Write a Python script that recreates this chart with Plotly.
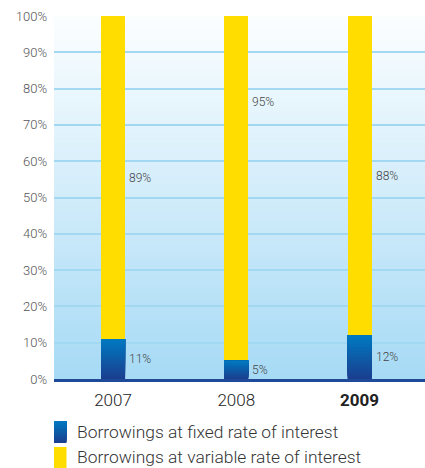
import plotly.graph_objects as go

# Share of borrowings by interest rate type
years = ["2007", "2008", "2009"]
fixed_rate = [11, 5, 12]
variable_rate = [89, 95, 88]
year_labels = ["2007", "2008", "<b>2009</b>"]
series_names = ["Borrowings at fixed rate of interest",
                "Borrowings at variable rate of interest"]
y_ticks = [0, 10, 20, 30, 40, 50, 60, 70, 80, 90, 100]

FONT = "Roboto"
BAR_W = 0.195
YELLOW = "#FFDD00"
BLUE_TOP = (0, 122, 194)
BLUE_BOT = (27, 62, 142)
BG_TOP = (252, 254, 255)
BG_BOT = (166, 218, 245)

W, H = 425, 468
M_L, M_R, M_T, M_B = 54, 0, 16, 89
PLOT_W = W - M_L - M_R
PLOT_H = H - M_T - M_B


def mix(a, b, t):
    return "rgb({},{},{})".format(*[round(a[k] + (b[k] - a[k]) * t) for k in range(3)])


def px_to_paper_y(py):
    return (H - M_B - py) / PLOT_H


def px_to_paper_x(px):
    return (px - M_L) / PLOT_W


fig = go.Figure()
fig.add_trace(go.Bar(
    x=years, y=fixed_rate, name=series_names[0],
    marker=dict(color=mix(BLUE_TOP, BLUE_BOT, 0.5), line=dict(width=0)),
    width=BAR_W,
))
fig.add_trace(go.Bar(
    x=years, y=variable_rate, name=series_names[1],
    marker=dict(color=YELLOW, line=dict(width=0)),
    width=BAR_W,
))

shapes = []
# soft vertical wash behind the plot (each band overpaints the ones below, no seams)
n_bg = 80
for k in range(n_bg):
    y0 = 100 * k / n_bg
    shapes.append(dict(
        type="rect", xref="paper", yref="y", x0=0, x1=1, y0=y0, y1=100,
        fillcolor=mix(BG_BOT, BG_TOP, (k + 0.5) / n_bg), line=dict(width=0),
        layer="below",
    ))

# gradient shading over the fixed-rate segments
n_g = 30
for i, v in enumerate(fixed_rate):
    for k in range(n_g):
        shapes.append(dict(
            type="rect", xref="x", yref="y",
            x0=i - BAR_W / 2, x1=i + BAR_W / 2, y0=v * k / n_g, y1=v,
            fillcolor=mix(BLUE_BOT, BLUE_TOP, (k + 0.5) / n_g),
            line=dict(width=0), layer="above",
        ))

# key below the chart: tall swatches and series names
sw_x0, sw_x1 = px_to_paper_x(54), px_to_paper_x(66.5)
key_rows = [(421, 443), (447, 468)]
for idx, (top, bot) in enumerate(key_rows):
    if idx == 0:
        n_k = 20
        for k in range(n_k):
            yb = bot - (bot - top) * k / n_k
            shapes.append(dict(
                type="rect", xref="paper", yref="paper",
                x0=sw_x0, x1=sw_x1, y0=px_to_paper_y(yb), y1=px_to_paper_y(top),
                fillcolor=mix(BLUE_BOT, BLUE_TOP, (k + 0.5) / n_k),
                line=dict(width=0), layer="above",
            ))
    else:
        shapes.append(dict(
            type="rect", xref="paper", yref="paper",
            x0=sw_x0, x1=sw_x1, y0=px_to_paper_y(bot), y1=px_to_paper_y(top),
            fillcolor=YELLOW, line=dict(width=0), layer="above",
        ))

annotations = []
for idx, (top, bot) in enumerate(key_rows):
    annotations.append(dict(
        x=px_to_paper_x(75), y=px_to_paper_y((top + bot) / 2 - 0.5),
        xref="paper", yref="paper", text=series_names[idx], showarrow=False,
        xanchor="left", yanchor="middle",
        font=dict(family=FONT, size=17.4, color="#333333", weight=300),
    ))

for i, (f, v) in enumerate(zip(fixed_rate, variable_rate)):
    annotations.append(dict(
        x=i, y=f / 2, xref="x", yref="y", text=f"{f}%", showarrow=False,
        xanchor="left", yanchor="middle", xshift=14,
        font=dict(family=FONT, size=12, color="#444444", weight=300),
    ))
    y_var = f + v / 2
    if v >= 95:
        y_var = f + v * 0.75
    annotations.append(dict(
        x=i, y=y_var, xref="x", yref="y", text=f"{v}%", showarrow=False,
        xanchor="left", yanchor="middle", xshift=14,
        font=dict(family=FONT, size=12, color="#444444", weight=300),
    ))

fig.update_layout(
    width=W, height=H,
    margin=dict(l=M_L, r=M_R, t=M_T, b=M_B, autoexpand=False),
    barmode="stack",
    paper_bgcolor="white",
    plot_bgcolor="rgba(0,0,0,0)",
    shapes=shapes,
    annotations=annotations,
    showlegend=False,
    xaxis=dict(
        type="category", range=[-0.479, 2.531],
        tickmode="array", tickvals=years, ticktext=year_labels,
        tickfont=dict(family=FONT, size=17, color="#222222", weight=300),
        showgrid=False, showline=True, linecolor="#1f4a9a", linewidth=3,
        ticks="", fixedrange=True, ticklabelstandoff=4,
    ),
    yaxis=dict(
        range=[0, 100], tickvals=y_ticks,
        ticktext=[f"{t}%" for t in y_ticks],
        tickfont=dict(family=FONT, size=13, color="#555555", weight=300),
        showgrid=True, gridcolor="#a3d8f3", gridwidth=1.5,
        zeroline=False, ticks="", ticklabelstandoff=6,
        fixedrange=True,
    ),
    font=dict(family=FONT),
)

fig.write_html("out.html")
